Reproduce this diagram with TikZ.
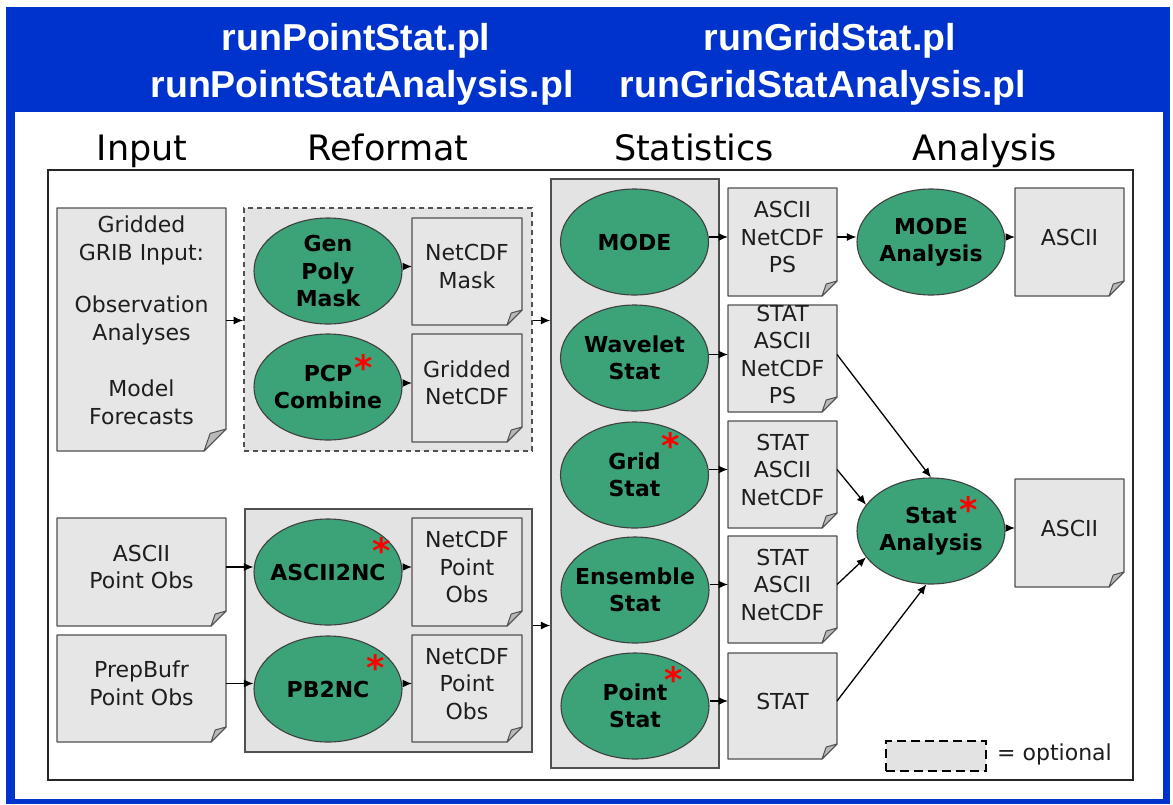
\documentclass[tikz,border=0pt]{standalone}
\usepackage{fontspec}
\setmainfont{DejaVu Sans}
\newfontfamily\hdrfont{Liberation Sans}
\usetikzlibrary{arrows.meta,shapes.geometric}
\definecolor{mblue}{RGB}{0,51,204}
\definecolor{mgreen}{RGB}{60,162,120}
\definecolor{docgray}{RGB}{230,230,230}
\definecolor{boxgray}{RGB}{227,227,227}
\definecolor{edgegray}{RGB}{80,80,80}
\definecolor{flapgray}{RGB}{185,185,185}
\definecolor{txtgray}{RGB}{30,30,30}
\tikzset{
  docedge/.style={fill=docgray, draw=edgegray, line width=1.3pt, line join=round},
  docflap/.style={fill=flapgray, draw=edgegray, line width=1pt, line join=round},
  doctext/.style={draw=none, inner sep=0pt, outer sep=0pt, align=center, text=txtgray,
    font=\fontsize{22}{27.5}\selectfont},
  ell/.style={ellipse, draw=black!75, line width=1.1pt, fill=mgreen, inner sep=0pt,
    minimum width=148pt, minimum height=106pt},
  etext/.style={inner sep=0pt, align=center, text=black, font=\bfseries\fontsize{22}{27.5}\selectfont},
  redast/.style={inner sep=0pt, text=red, font=\bfseries\fontsize{35}{35}\selectfont, anchor=north, text depth=-12.5pt},
  container/.style={draw=edgegray, line width=1.3pt, fill=boxgray, inner sep=0pt},
  optbox/.style={container, dashed, dash pattern=on 5pt off 4pt, line width=1.6pt},
  arr/.style={-{Latex[length=9.5pt,width=8pt]}, line width=1.3pt, black},
  hdr/.style={inner sep=0pt, anchor=base, text=white, font=\hdrfont\bfseries\fontsize{37.5}{45}\selectfont},
  coltitle/.style={inner sep=0pt, anchor=base, text=black, font=\fontsize{35}{40}\selectfont},
}
\newcommand{\docpage}[8]{%
  \filldraw[docedge] (#2,#3) -- (#4,#3) -- (#4,#5-#6) -- (#4-#6,#5) -- (#2,#5) -- cycle;
  \filldraw[docflap] (#4,#5-#6) -- (#4-#6,#5) -- (#4-0.72*#6,#5-0.8*#6) -- cycle;
  \node[doctext, minimum width={(#4-#2)*1pt}, minimum height={(#5-#3)*1pt}] (#1)
    at ({(#2+#4)/2},{(#3+#5)/2-#7}) {#8};
}
\newcommand{\proc}[4]{%
  \node[ell] (#1) at (#2,#3) {};
  \node[etext] (#1t) at (#1) {#4};
}
\begin{document}
\begin{tikzpicture}[x=1pt,y=-1pt]
\useasboundingbox (0,0) rectangle (1173,804);
\fill[white] (0,0) rectangle (1173,804);
% blue frame and white panel
\fill[mblue] (6,7) rectangle (1170,804);
\fill[white] (15,112) rectangle (1163,799);
% header titles
\node[hdr] (h1) at (356,50) {runPointStat.pl};
\node[hdr] (h2) at (362,97) {runPointStatAnalysis.pl};
\node[hdr] (h3) at (830,50) {runGridStat.pl};
\node[hdr] (h4) at (823,97) {runGridStatAnalysis.pl};
% column titles
\node[coltitle] (c1) at (142,160) {Input};
\node[coltitle] (c2) at (388,160) {Reformat};
\node[coltitle] (c3) at (694,160) {Statistics};
\node[coltitle] (c4) at (985,160) {Analysis};
% inner frame
\draw[line width=2pt, black!85] (48,170) rectangle (1133,780);
% containers
\node[optbox, minimum width=288pt, minimum height=243pt] (rfa) at (388,329.5) {};
\node[container, minimum width=287pt, minimum height=243pt] (rfb) at (388.5,630.5) {};
\node[container, minimum width=168pt, minimum height=589pt] (stats) at (635,473.5) {};
% input documents
\docpage{grib}{57}{208}{226}{451}{22}{9}{Gridded\\GRIB Input:\\[25pt]Observation\\Analyses\\[29pt]Model\\Forecasts}
\docpage{asciiobs}{57}{518}{226}{626}{15}{5}{ASCII\\Point Obs}
\docpage{prepobs}{57}{635}{226}{742}{15}{5}{PrepBufr\\Point Obs}
% reformat
\proc{gpm}{328}{271}{Gen\\Poly\\Mask}
\proc{pcp}{328}{387}{PCP\\Combine}
\proc{a2nc}{328}{572}{ASCII2NC}
\proc{pb2nc}{328}{689}{PB2NC}
\docpage{mask}{412}{218}{522}{325}{15}{5}{NetCDF\\Mask}
\docpage{gnc}{412}{334}{522}{442}{15}{5}{Gridded\\NetCDF}
\docpage{pnc1}{412}{518}{522}{626}{15}{5}{NetCDF\\Point\\Obs}
\docpage{pnc2}{412}{635}{522}{742}{15}{5}{NetCDF\\Point\\Obs}
% statistics
\proc{mode}{634.5}{242}{MODE}
\proc{wav}{634.5}{358}{Wavelet\\Stat}
\proc{grid}{634.5}{475}{Grid\\Stat}
\proc{ens}{635}{590}{Ensemble\\Stat}
\proc{pnt}{635}{706}{Point\\Stat}
\docpage{o1}{728}{188}{837}{296}{15}{5}{ASCII\\NetCDF\\PS}
\docpage{o2}{728}{305}{837}{412}{15}{4}{STAT\\ASCII\\NetCDF\\PS}
\docpage{o3}{728}{421}{837}{528}{15}{5}{STAT\\ASCII\\NetCDF}
\docpage{o4}{728}{536}{837}{643}{15}{5}{STAT\\ASCII\\NetCDF}
\docpage{o5}{728}{653}{837}{759}{15}{5}{STAT}
% analysis
\proc{moda}{931}{242}{MODE\\Analysis}
\proc{sa}{931}{531}{Stat\\Analysis}
\docpage{r1}{1015}{188}{1124}{296}{15}{5}{ASCII}
\docpage{r2}{1015}{479}{1124}{587}{15}{5}{ASCII}
% asterisks
\node[redast] (s1) at (364,354) {*};
\node[redast] (s2) at (382,537) {*};
\node[redast] (s3) at (376,654) {*};
\node[redast] (s4) at (671,432) {*};
\node[redast] (s5) at (674,666) {*};
\node[redast] (s6) at (969,496) {*};
% legend
\node[container, draw=black, dashed, dash pattern=on 9pt off 5pt, line width=2.4pt,
  minimum width=100pt, minimum height=30pt] (leg) at (936,756) {};
\node[inner sep=0pt, anchor=base west, font=\fontsize{22}{27.5}\selectfont, text=txtgray] (legt) at (997,760) {= optional};
% connectors
\draw[arr] (grib.east) -- (grib.east -| rfa.west);
\draw[arr] (rfa.east |- grib.east) -- (stats.west |- grib.east);
\draw[arr] (asciiobs.east) -- (asciiobs.east -| a2nc.west);
\draw[arr] (prepobs.east) -- (prepobs.east -| pb2nc.west);
\draw[arr] (gpm.east |- mask.west) -- (mask.west);
\draw[arr] (pcp.east |- gnc.west) -- (gnc.west);
\draw[arr] (a2nc.east |- pnc1.west) -- (pnc1.west);
\draw[arr] (pb2nc.east |- pnc2.west) -- (pnc2.west);
\draw[arr] ([yshift=5pt]rfb.east) -- ([yshift=5pt]rfb.east -| stats.west);
\draw[arr] (mode.east |- o1.west) -- (o1.west);
\draw[arr] (wav.east |- o2.west) -- (o2.west);
\draw[arr] (grid.east |- o3.west) -- (o3.west);
\draw[arr] (ens.east |- o4.west) -- (o4.west);
\draw[arr] (pnt.east |- o5.west) -- (o5.west);
\draw[arr] (o1.east) -- (o1.east -| moda.west);
\draw[arr] (moda.east |- r1.west) -- (r1.west);
\draw[arr] (o2.east) -- (sa.north);
\draw[arr] (o3.east) -- (sa.158);
\draw[arr] (o4.east) -- (sa.202);
\draw[arr] (o5.east) -- (sa.265);
\draw[arr] (sa.east |- r2.west) -- (r2.west);
\end{tikzpicture}
\end{document}
